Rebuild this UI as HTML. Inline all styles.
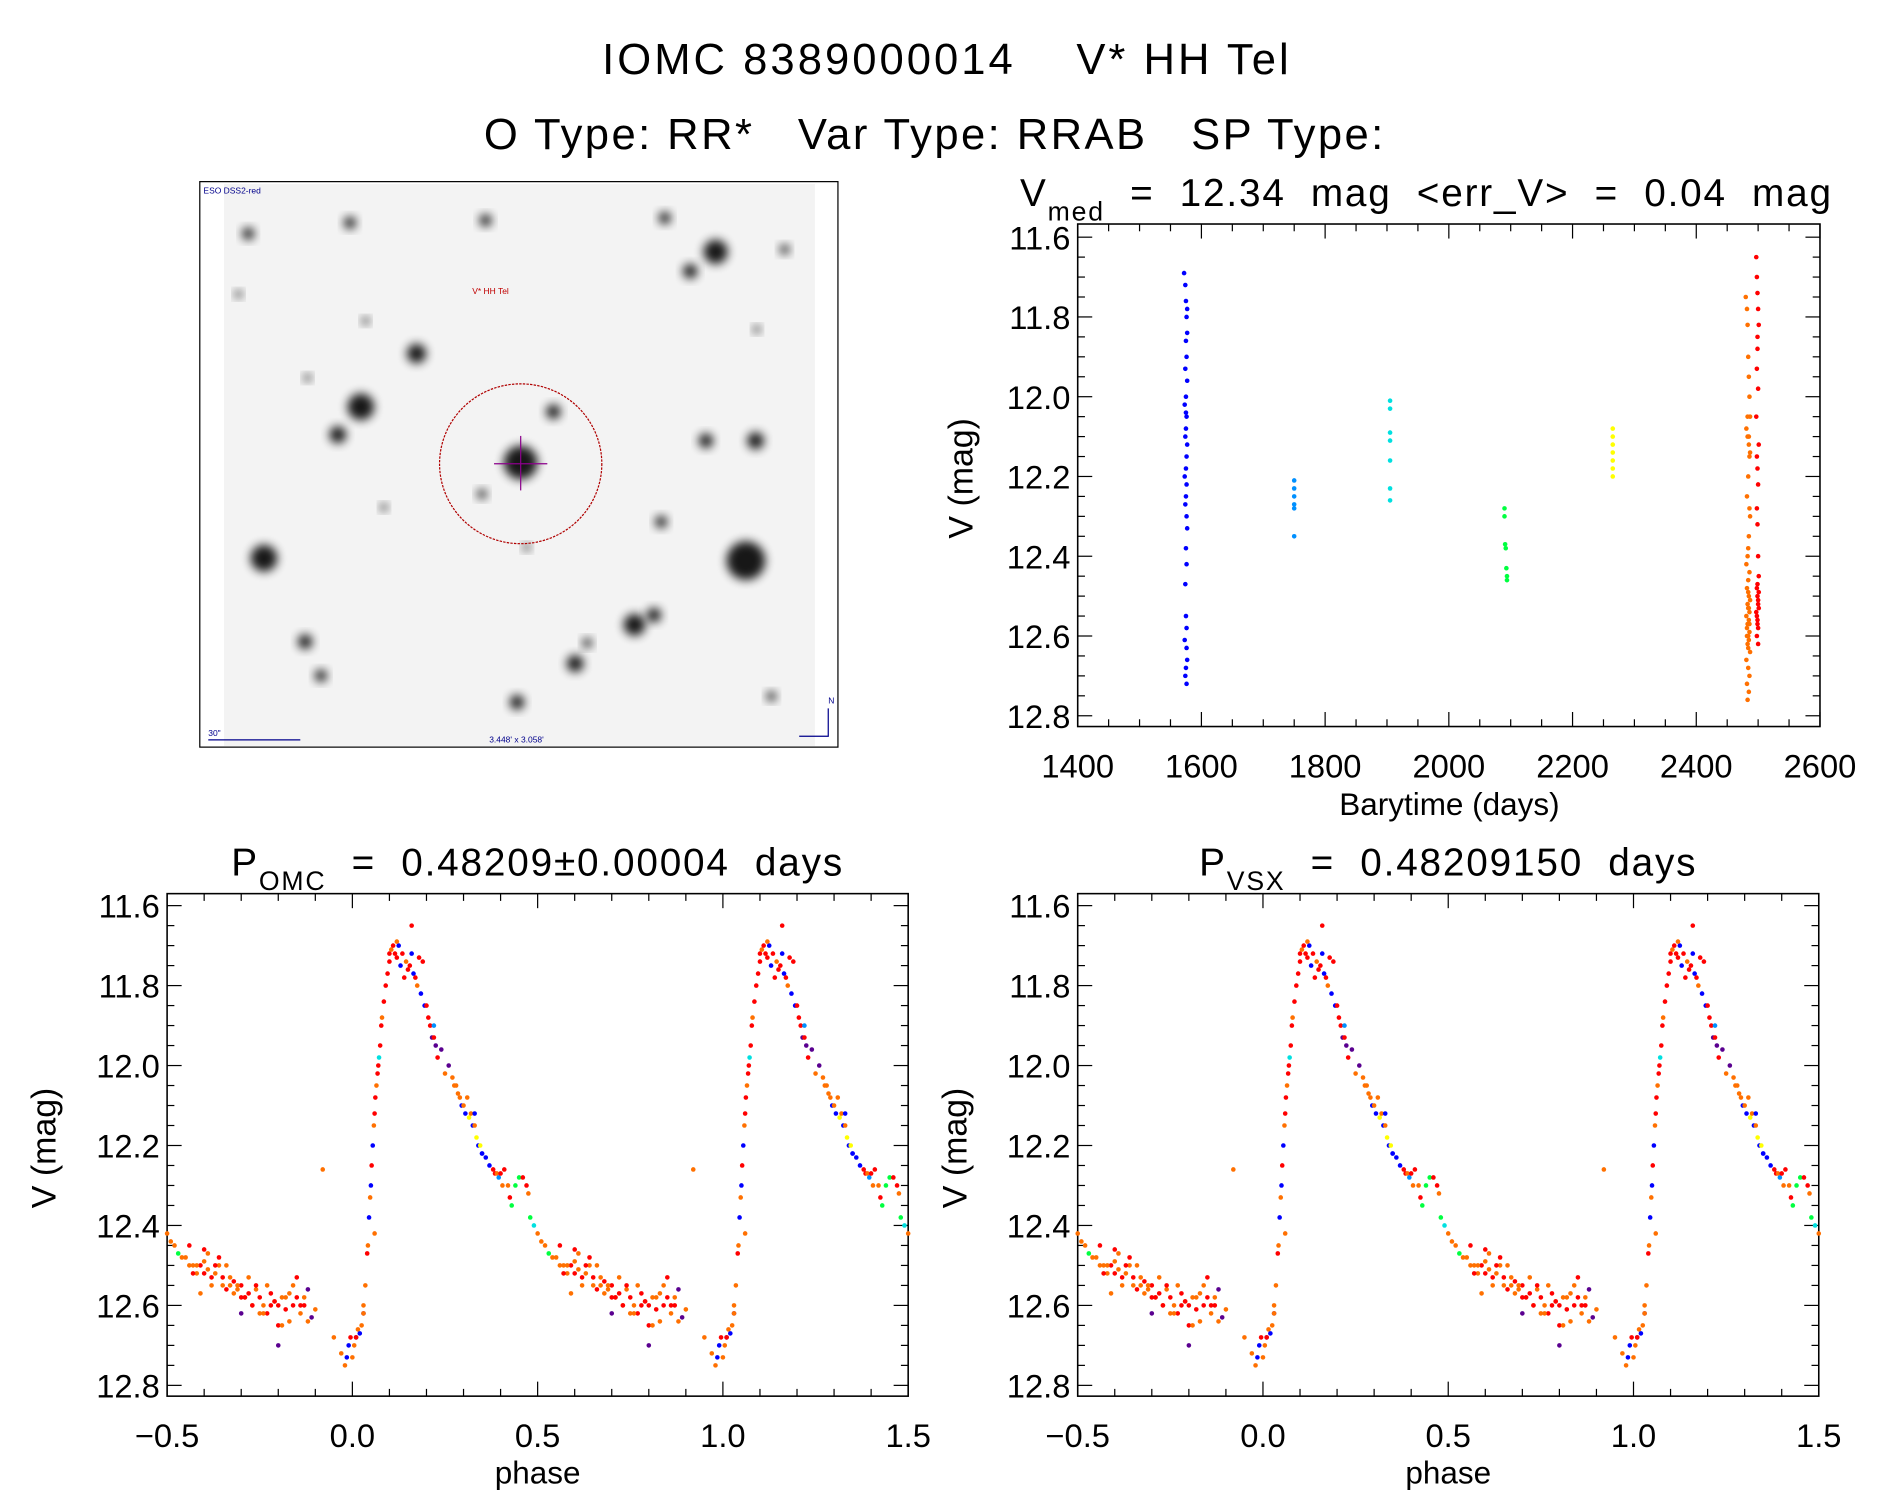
<!DOCTYPE html>
<html><head><meta charset="utf-8">
<style>
html,body{margin:0;padding:0;background:#fff;}
svg{display:block;}
text{font-family:"Liberation Sans",sans-serif;fill:#000;white-space:pre;}
</style></head>
<body>
<svg id="fig" xmlns="http://www.w3.org/2000/svg" width="1889" height="1494" viewBox="0 0 1560 1233.8" preserveAspectRatio="none" xml:space="preserve">
<defs>
<filter id="blur" x="-50%" y="-50%" width="200%" height="200%"><feGaussianBlur stdDeviation="4"/></filter>
</defs>
<text x="782" y="61" text-anchor="middle" font-size="36" letter-spacing="2.5">IOMC 8389000014    V* HH Tel</text>
<text x="772" y="123" text-anchor="middle" font-size="36" letter-spacing="2">O Type: RR*   Var Type: RRAB   SP Type:</text>

<g id="sky">
<rect x="165" y="150" width="527" height="467" fill="#fff" stroke="#000" stroke-width="1"/>
<rect x="185" y="152" width="488" height="464" fill="#f3f3f3"/>
</g>
<text x="168" y="160" font-size="7" style="fill:#00008b">ESO DSS2-red</text>
<text x="390" y="243" font-size="7" style="fill:#c00000">V* HH Tel</text>
<ellipse cx="430" cy="383" rx="67" ry="66" fill="none" stroke="#b00000" stroke-width="1" stroke-dasharray="2,1"/>
<line x1="430" y1="360" x2="430" y2="405" stroke="#8b008b" stroke-width="1"/>
<line x1="408" y1="383" x2="452" y2="383" stroke="#8b008b" stroke-width="1"/>
<line x1="172" y1="611" x2="248" y2="611" stroke="#00008b" stroke-width="1"/>
<text x="172" y="608" font-size="7" style="fill:#00008b">30"</text>
<text x="404" y="613" font-size="7" style="fill:#00008b">3.448' x 3.058'</text>
<path d="M684 585 L684 608 L660 608" fill="none" stroke="#00008b" stroke-width="1"/>
<text x="684" y="581" font-size="7" style="fill:#00008b">N</text>

<g id="plots"></g>
</svg>
<script>
// ---- light curve data (time series) ----
const tsTimes = [1572,1574,1575,1576,1577,1575,1576,1574,1577,1575,1573,1576,1575,1574,1577,1576,1575,1573,1576,1575,1574,1576,1577,1575,1576,1574,1575,1576,1573,1576,1577,1575,1574,1576,1575,1577,
 1750,1750,1750,1750,1750,1750,
 1905,1905,1905,1905,1905,1905,1905,
 2090,2090,2091,2092,2093,2094,2094,
 2265,2265,2265,2265,2265,2265,2265,
 2480,2482,2483,2484,2485,2486,2487,2481,2483,2485,2486,2484,2482,2487,2485,2483,2481,2486,2484,2482,2485,2487,2483,2484,2486,2481,2485,2483,2482,2486,2484,2485,2483,2487,2481,2484,2486,2482,2485,2483,2484,2486,2485,2482,2484,2483,2485,2487,2486,2484,
 2497,2498,2499,2500,2501,2499,2498,2500,2497,2501,2499,2500,2498,2499,2500,2501,2498,2499,2500,2497,2499,2500,2498,2501,2499,2500,2498,2499,2500,2501,2499,2498];
const tsMags = [11.69,11.72,11.76,11.8,11.84,11.86,11.9,11.93,11.96,12.0,12.02,12.05,12.08,12.1,12.12,12.15,12.18,12.2,12.22,12.25,12.27,12.3,12.33,12.38,12.42,12.47,12.55,12.58,12.61,12.63,12.66,12.68,12.7,12.72,12.04,11.78,
 12.21,12.23,12.25,12.27,12.28,12.35,
 12.01,12.03,12.09,12.11,12.16,12.23,12.26,
 12.28,12.3,12.37,12.38,12.43,12.45,12.46,
 12.08,12.1,12.12,12.14,12.16,12.18,12.2,
 11.75,11.78,11.82,11.9,11.95,12.0,12.05,12.08,12.1,12.12,12.15,12.2,12.25,12.3,12.35,12.4,12.42,12.44,12.46,12.48,12.5,12.51,12.52,12.53,12.54,12.55,12.56,12.57,12.58,12.59,12.6,12.61,12.62,12.64,12.66,12.68,12.7,12.72,12.74,12.76,12.49,12.57,12.53,12.6,12.63,12.05,12.1,12.14,12.28,12.38,
 11.65,11.7,11.74,11.78,11.82,11.88,11.93,11.98,12.05,12.12,12.18,12.22,12.28,12.32,12.4,12.45,12.48,12.5,12.52,12.54,12.56,12.58,12.6,12.49,12.47,12.51,12.55,12.57,12.62,12.53,11.85,12.15];
// ---- phased data (phase, mag, colour) ----
const phases = [0.0,0.005,0.01,0.015,0.02,0.025,0.03,0.035,0.04,0.042,0.045,0.048,0.05,0.052,0.055,0.058,0.06,0.062,0.065,0.068,0.07,0.072,0.075,0.078,0.08,0.085,0.09,0.095,0.1,0.1,0.105,0.11,0.115,0.12,0.125,0.13,0.135,0.14,0.145,0.15,0.155,0.16,0.165,0.17,0.175,0.18,0.185,0.19,0.195,0.2,0.205,0.21,0.215,0.22,0.225,0.23,0.24,0.25,0.26,0.27,0.275,0.28,0.285,0.29,0.295,0.3,0.305,0.31,0.315,0.32,0.325,0.33,0.335,0.34,0.345,0.35,0.36,0.37,0.38,0.385,0.39,0.395,0.4,0.405,0.41,0.42,0.425,0.43,0.44,0.45,0.46,0.47,0.475,0.48,0.49,0.5,0.51,0.52,0.53,0.54,0.55,0.56,0.57,0.58,0.59,0.6,0.61,0.62,0.63,0.64,0.65,0.66,0.67,0.68,0.69,0.7,0.71,0.72,0.73,0.74,0.75,0.76,0.77,0.78,0.79,0.8,0.81,0.82,0.83,0.84,0.85,0.86,0.87,0.88,0.89,0.9,0.56,0.58,0.6,0.62,0.64,0.66,0.68,0.7,0.72,0.74,0.76,0.78,0.8,0.82,0.84,0.86,0.88,0.57,0.61,0.65,0.69,0.73,0.77,0.81,0.85,0.59,0.63,0.67,0.71,0.75,0.79,0.83,0.87,0.6,0.7,0.8,0.92,0.95,0.97,0.98,0.99,0.985,0.995,0.01,0.03,0.12,0.16,0.22,0.33,0.35,0.03,0.06];
const phMags = [12.73,12.7,12.68,12.66,12.67,12.65,12.6,12.55,12.47,12.45,12.38,12.33,12.3,12.25,12.2,12.15,12.12,12.08,12.05,12.02,12.0,11.98,11.95,11.9,11.88,11.84,11.8,11.77,11.74,11.72,11.71,11.7,11.72,11.73,11.7,11.75,11.72,11.78,11.74,11.76,11.75,11.65,11.77,11.78,11.8,11.73,11.82,11.74,11.85,11.85,11.88,11.9,11.93,11.93,11.95,11.98,11.96,12.02,12.0,12.03,12.05,12.05,12.07,12.08,12.1,12.1,12.12,12.08,12.13,12.12,12.15,12.15,12.18,12.2,12.2,12.22,12.23,12.25,12.26,12.27,12.27,12.28,12.27,12.3,12.26,12.3,12.33,12.35,12.3,12.28,12.28,12.3,12.32,12.38,12.4,12.42,12.44,12.45,12.47,12.48,12.48,12.5,12.5,12.52,12.5,12.49,12.51,12.53,12.52,12.5,12.55,12.56,12.53,12.57,12.56,12.55,12.58,12.57,12.6,12.56,12.58,12.6,12.62,12.57,12.59,12.6,12.58,12.61,12.57,12.6,12.58,12.62,12.6,12.56,12.63,12.61,12.45,12.5,12.52,12.55,12.48,12.5,12.54,12.58,12.53,12.55,12.62,12.6,12.65,12.58,12.55,12.6,12.64,12.52,12.47,12.53,12.55,12.6,12.55,12.65,12.53,12.57,12.5,12.55,12.58,12.62,12.59,12.64,12.58,12.46,12.62,12.7,12.26,12.68,12.72,12.75,12.7,12.73,12.68,12.68,12.62,11.69,11.72,11.9,12.12,12.22,12.62,12.42];
const phCols = [6,6,4,6,4,6,6,6,7,6,4,6,4,7,4,6,7,7,6,7,7,3,7,7,6,7,7,7,7,7,6,7,7,7,4,4,7,7,6,7,7,7,4,7,6,7,4,7,4,7,7,7,0,7,0,7,0,6,0,6,6,6,6,6,4,6,4,6,5,6,4,6,5,4,5,4,4,4,7,7,6,2,7,6,7,6,7,8,8,8,7,7,6,8,3,6,6,6,8,6,6,6,6,6,7,6,6,7,6,6,6,7,6,6,6,7,6,7,6,6,7,6,7,7,6,7,6,7,6,7,7,6,7,0,0,6,7,6,7,6,7,6,7,7,6,7,6,7,7,6,6,7,6,7,6,7,6,7,6,6,7,6,7,6,7,6,7,6,6,7,0,0,6,6,6,6,4,4,7,7,0,6,4,2,4,4,6];
const palette = ['#5a0090','#2040ff','#0090ff','#00e0e0','#0000ff','#ffff00','#ff7000','#ff0000','#00ff40'];
// time-series colours per cluster
const clusterEnds = [36,42,49,56,63,113,145];
const clusterCols = [4,2,3,8,5,6,7];
</script>
<script>
const NS='http://www.w3.org/2000/svg';
const root=document.getElementById('plots');
function mk(tag,attrs,parent){const e=document.createElementNS(NS,tag);for(const k in attrs)e.setAttribute(k,attrs[k]);(parent||root).appendChild(e);return e;}
function txt(x,y,s,size,anchor,name,rot){const t=mk('text',{x:x,y:y,'font-size':size,'text-anchor':anchor||'middle'});if(rot)t.setAttribute('transform','rotate(-90 '+x+' '+y+')');t.textContent=s;


return t;}

const stars=[[205,193,5],[289,184,5],[401,182,5],[549,180,5],[591,208,10],[570,224,6],[648,206,4],[197,243,3],[302,265,3],[344,292,8],[254,312,3],[298,336,11],[279,359,7],[457,340,6],[430,382,14],[583,364,6],[624,364,7],[398,408,4],[317,419,3],[546,431,5],[218,461,11],[616,463,16],[435,452,3],[252,530,6],[524,516,9],[540,508,6],[485,531,4],[475,548,7],[265,558,5],[427,580,6],[637,575,4],[625,272,3]];
for(const s of stars){const c=mk('circle',{cx:s[0],cy:s[1],r:s[2],fill:'#000',filter:'url(#blur)',opacity:0.9},document.getElementById('sky'));

}

function axes(X0,X1,Y0,Y1,xmin,xmax,ymin,ymax,xMaj,xMin,xLabFmt,yTicks,name){
  const g=mk('g',{});
  
  
  const sx=v=>X0+(v-xmin)/(xmax-xmin)*(X1-X0);
  const sy=v=>Y0+(v-ymin)/(ymax-ymin)*(Y1-Y0);
  mk('rect',{x:X0,y:Y0,width:X1-X0,height:Y1-Y0,fill:'none',stroke:'#000','stroke-width':1.3},g);
  const n0=Math.ceil(xmin/xMin-1e-6), n1=Math.floor(xmax/xMin+1e-6);
  for(let n=n0;n<=n1;n++){
    const v=Math.round(n*xMin*1e6)/1e6;
    const maj=Math.abs(v/xMaj-Math.round(v/xMaj))<1e-6;const L=maj?12:6;const x=sx(v);
    mk('line',{x1:x,y1:Y1,x2:x,y2:Y1-L,stroke:'#000','stroke-width':1},g);
    mk('line',{x1:x,y1:Y0,x2:x,y2:Y0+L,stroke:'#000','stroke-width':1},g);
    if(maj){txt(x,Y1+42,xLabFmt(v),27,'middle','x-tick-label');}
  }
  for(let n=Math.ceil(ymin*20-1e-6);n<=Math.floor(ymax*20+1e-6);n++){
    const r=n/20;const maj=n%4===0;const L=maj?12:6;const y=sy(r);
    mk('line',{x1:X0,y1:y,x2:X0+L,y2:y,stroke:'#000','stroke-width':1},g);
    mk('line',{x1:X1,y1:y,x2:X1-L,y2:y,stroke:'#000','stroke-width':1},g);
  }
  for(const t of yTicks){txt(X0-6,sy(t)+10,t.toFixed(1),27,'end','y-tick-label');}
  return {sx,sy,g};
}
const yT=[11.6,11.8,12.0,12.2,12.4,12.6,12.8];
function dot(g,x,y,c){const d=mk('circle',{cx:x,cy:y,r:1.9,fill:c},g);

}

const A=axes(890,1503,185,600,1400,2600,11.567,12.827,200,50,v=>String(Math.round(v)),yT,'time-series-plot');
let ci=0;
for(let i=0;i<tsTimes.length;i++){while(i>=clusterEnds[ci])ci++;dot(A.g,A.sx(tsTimes[i]),A.sy(tsMags[i]),palette[clusterCols[ci]]);}
txt(1197,673,'Barytime (days)',26,'middle','x-axis-title');
txt(803,395,'V (mag)',28,'middle','y-axis-title',true);
const tt=txt(1178,170,'',32,'middle','time-series-title');
tt.setAttribute('letter-spacing','1.5');
tt.innerHTML='V<tspan font-size="22" dy="12">med</tspan><tspan dy="-12">  =  12.34  mag  &lt;err_V&gt;  =  0.04  mag</tspan>';

function phasePlot(X0,title,sub,rest,name){
  const P=axes(X0,X0+612,738,1153,-0.5,1.5,11.57,12.827,0.5,0.1,v=>(v<-0.01?'\u22120.5':v.toFixed(1)),yT,name);
  for(let i=0;i<phases.length;i++){
    for(const off of [-1,0,1]){const p=phases[i]+off;if(p<-0.5||p>1.5)continue;
      const c=phCols[i]===undefined?6:phCols[i];
      dot(P.g,P.sx(p),P.sy(phMags[i]),palette[c]);}
  }
  txt(X0+306,1225,'phase',26,'middle','x-axis-title');
  txt(X0-92,948,'V (mag)',28,'middle','y-axis-title',true);
  const t=txt(X0+306,723,'',32,'middle','phase-plot-title');
  t.setAttribute('letter-spacing','1.5');
  t.innerHTML=title+'<tspan font-size="22" dy="12">'+sub+'</tspan><tspan dy="-12">'+rest+'</tspan>';
}
phasePlot(138,'P','OMC','  =  0.48209\u00b10.00004  days','phase-plot-omc');
phasePlot(890,'P','VSX','  =  0.48209150  days','phase-plot-vsx');
</script>
</body></html>
